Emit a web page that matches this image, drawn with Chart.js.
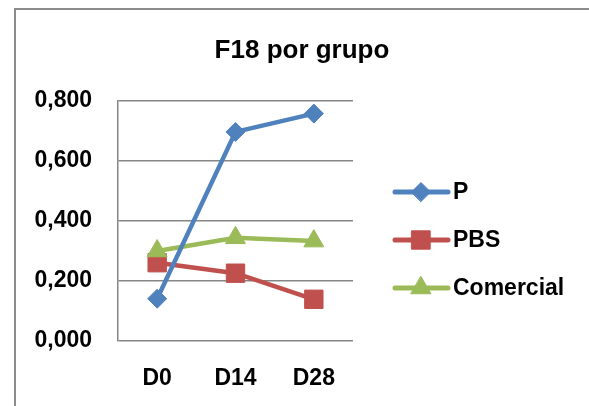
<!DOCTYPE html>
<html>
<head>
<meta charset="utf-8">
<script src="https://cdn.jsdelivr.net/npm/chart.js@4.4.1/dist/chart.umd.min.js"></script>
<style>
    html, body { margin: 0; padding: 0; background: #fff; }
    #wrap { position: relative; width: 589px; height: 406px; }
</style>
</head>
<body>
<div id="wrap"><canvas id="f18Chart" width="589" height="406"></canvas></div>
<script>
// Chart data
const chartTitle = 'F18 por grupo';
const categories = ['D0', 'D14', 'D28'];
const seriesNames = ['P', 'PBS', 'Comercial'];
const valuesP = [0.141, 0.697, 0.758];
const valuesPBS = [0.261, 0.226, 0.139];
const valuesComercial = [0.300, 0.344, 0.333];
const yTicks = [0, 0.2, 0.4, 0.6, 0.8];

const FONT = 'Liberation Sans, Arial, sans-serif';
const GRID_COLOR = '#868686';

// Frame, title and legend (Excel style)
const excelDecor = {
    id: 'excelDecor',
    beforeDraw(chart) {
        const ctx = chart.ctx;
        ctx.save();
        ctx.strokeStyle = '#8c8c8c';
        ctx.lineWidth = 2;
        ctx.beginPath();
        ctx.moveTo(15, 406);
        ctx.lineTo(15, 9);
        ctx.lineTo(589, 9);
        ctx.stroke();
        ctx.restore();
    },
    afterDraw(chart) {
        const ctx = chart.ctx;
        ctx.save();
        ctx.fillStyle = '#000';
        ctx.font = 'bold 26px ' + FONT;
        ctx.textAlign = 'center';
        ctx.textBaseline = 'alphabetic';
        ctx.fillText(chartTitle, 302, 58);

        // legend
        ctx.font = 'bold 23px ' + FONT;
        ctx.textAlign = 'left';
        ctx.textBaseline = 'middle';
        chart.data.datasets.forEach(function(ds, i) {
            const y = 192 + i * 48;
            ctx.strokeStyle = ds.borderColor;
            ctx.lineWidth = 5;
            ctx.lineCap = 'round';
            ctx.beginPath();
            ctx.moveTo(395, y);
            ctx.lineTo(448, y);
            ctx.stroke();
            ctx.fillStyle = ds.backgroundColor;
            ctx.lineWidth = 1;
            Chart.helpers.drawPoint(ctx, {
                pointStyle: ds.pointStyle,
                radius: ds.pointRadius,
                rotation: 0,
                borderWidth: 1
            }, 421, y);
            ctx.fillStyle = '#000';
            ctx.fillText(ds.label, 453, y + 1);
        });
        ctx.restore();
    }
};

function makeDataset(label, data, color, style, radius, order) {
    return {
        label: label,
        data: data,
        borderColor: color,
        backgroundColor: color,
        borderWidth: 4.5,
        pointStyle: style,
        pointRadius: radius,
        pointHoverRadius: radius,
        pointBorderWidth: 1,
        pointBackgroundColor: color,
        pointBorderColor: color,
        tension: 0,
        fill: false,
        order: order
    };
}

new Chart(document.getElementById('f18Chart'), {
    type: 'line',
    data: {
        labels: categories,
        datasets: [
            makeDataset(seriesNames[0], valuesP, '#4F81BD', 'rectRot', 9.5, 0),
            makeDataset(seriesNames[1], valuesPBS, '#C0504D', 'rect', 13, 2),
            makeDataset(seriesNames[2], valuesComercial, '#9BBB59', 'triangle', 11.5, 1)
        ]
    },
    options: {
        responsive: false,
        animation: false,
        devicePixelRatio: 1,
        layout: {
            padding: { top: 101, right: 236, bottom: 0, left: 0 }
        },
        plugins: {
            legend: { display: false },
            title: { display: false },
            tooltip: { enabled: false }
        },
        scales: {
            x: {
                offset: true,
                grid: { display: false },
                border: { display: false },
                ticks: {
                    color: '#000',
                    padding: 16,
                    font: { family: FONT, weight: 'bold', size: 23 }
                },
                afterFit: function(scale) { scale.height = 65; }
            },
            y: {
                min: 0,
                max: 0.8,
                afterBuildTicks: function(scale) {
                    scale.ticks = yTicks.map(v => ({ value: v }));
                },
                grid: {
                    color: GRID_COLOR,
                    lineWidth: 1.5,
                    drawTicks: false
                },
                border: { display: true, color: GRID_COLOR, width: 1.5 },
                ticks: {
                    color: '#000',
                    padding: 26,
                    font: { family: FONT, weight: 'bold', size: 23 },
                    callback: function(value) {
                        return value.toFixed(3).replace('.', ',');
                    }
                },
                afterFit: function(scale) { scale.width = 118; }
            }
        }
    },
    plugins: [excelDecor]
});
</script>
</body>
</html>
